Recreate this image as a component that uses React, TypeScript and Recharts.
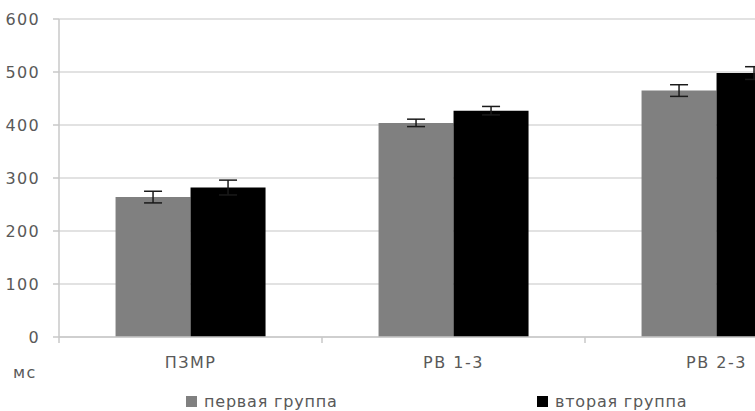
import { BarChart, Bar, XAxis, YAxis, CartesianGrid, ErrorBar, Legend } from "recharts"

const categories = ["ПЗМР", "РВ 1-3", "РВ 2-3"]
const firstGroup = [264, 404, 465]
const firstGroupErr = [11, 7, 11]
const secondGroup = [282, 427, 498]
const secondGroupErr = [14, 8, 12]
const yTicks = [0, 100, 200, 300, 400, 500, 600]
const seriesNames = { first: "первая группа", second: "вторая группа" }

const colors = { first: "#808080", second: "#000000" }
const FONT = "'DejaVu Sans', sans-serif"
const TEXT = "#595959"
const AXIS = "#c8c8c8"
const TICK_MARGIN = 20

const data = categories.map((name, i) => ({
  name,
  first: firstGroup[i],
  firstErr: firstGroupErr[i],
  second: secondGroup[i],
  secondErr: secondGroupErr[i],
}))

function LegendContent() {
  const items = [
    { key: "first", label: seriesNames.first, color: colors.first, width: 351 },
    { key: "second", label: seriesNames.second, color: colors.second, width: 200 },
  ]
  return (
    <div style={{ display: "flex", paddingLeft: 186, paddingTop: 11, fontFamily: FONT, fontSize: 16, letterSpacing: 0.8, color: TEXT }}>
      {items.map((it) => (
        <div key={it.key} style={{ display: "flex", alignItems: "center", width: it.width }}>
          <span style={{ display: "inline-block", width: 11, height: 11, background: it.color, marginRight: 7 }} />
          <span>{it.label}</span>
        </div>
      ))}
    </div>
  )
}

// category label plus the tick marks on the category boundaries
function CategoryTick(props: any) {
  const { x, y, payload, index, visibleTicksCount } = props
  const half = payload.offset ?? 0
  const axisY = y - TICK_MARGIN
  const isLast = index === visibleTicksCount - 1
  return (
    <g>
      <line x1={x - half} x2={x - half} y1={axisY} y2={axisY + 6} stroke={AXIS} strokeWidth={1.5} />
      {isLast && <line x1={x + half} x2={x + half} y1={axisY} y2={axisY + 6} stroke={AXIS} strokeWidth={1.5} />}
      <text x={x} y={y} dy="0.71em" textAnchor="middle" fill={TEXT} fontSize={16} letterSpacing={1.5}>
        {payload.value}
      </text>
    </g>
  )
}

export default function App() {
  return (
    <div style={{ position: "absolute", left: 0, top: 0, width: 755, height: 411, overflow: "hidden", background: "#fff" }}>
      <BarChart
        width={860}
        height={411}
        data={data}
        margin={{ top: 19, right: 12, left: 0, bottom: 0 }}
        barGap={0}
        barCategoryGap="21.5%"
        style={{ fontFamily: FONT }}
      >
        <CartesianGrid vertical={false} stroke="#d9d9d9" strokeWidth={1.5} />
        <XAxis
          dataKey="name"
          height={44}
          tickLine={false}
          tickSize={0}
          axisLine={{ stroke: AXIS, strokeWidth: 1.5 }}
          tickMargin={TICK_MARGIN}
          tick={<CategoryTick />}
        />
        <YAxis
          width={59}
          domain={[0, 600]}
          ticks={yTicks}
          tickSize={6}
          tickMargin={13}
          tick={{ fill: TEXT, fontSize: 16, letterSpacing: 1.3 }}
          tickLine={{ stroke: AXIS, strokeWidth: 1.5 }}
          axisLine={{ stroke: AXIS, strokeWidth: 1.5 }}
        />
        <Legend verticalAlign="bottom" content={<LegendContent />} wrapperStyle={{ height: 30 }} />
        <Bar dataKey="first" name={seriesNames.first} fill={colors.first} isAnimationActive={false}>
          <ErrorBar dataKey="firstErr" width={9} stroke="#1a1a1a" strokeWidth={1.5} />
        </Bar>
        <Bar dataKey="second" name={seriesNames.second} fill={colors.second} isAnimationActive={false}>
          <ErrorBar dataKey="secondErr" width={9} stroke="#1a1a1a" strokeWidth={1.5} />
        </Bar>
      </BarChart>
      <div style={{ position: "absolute", left: 13, top: 363, fontFamily: FONT, fontSize: 16, letterSpacing: 1.5, color: TEXT }}>мс</div>
    </div>
  )
}
